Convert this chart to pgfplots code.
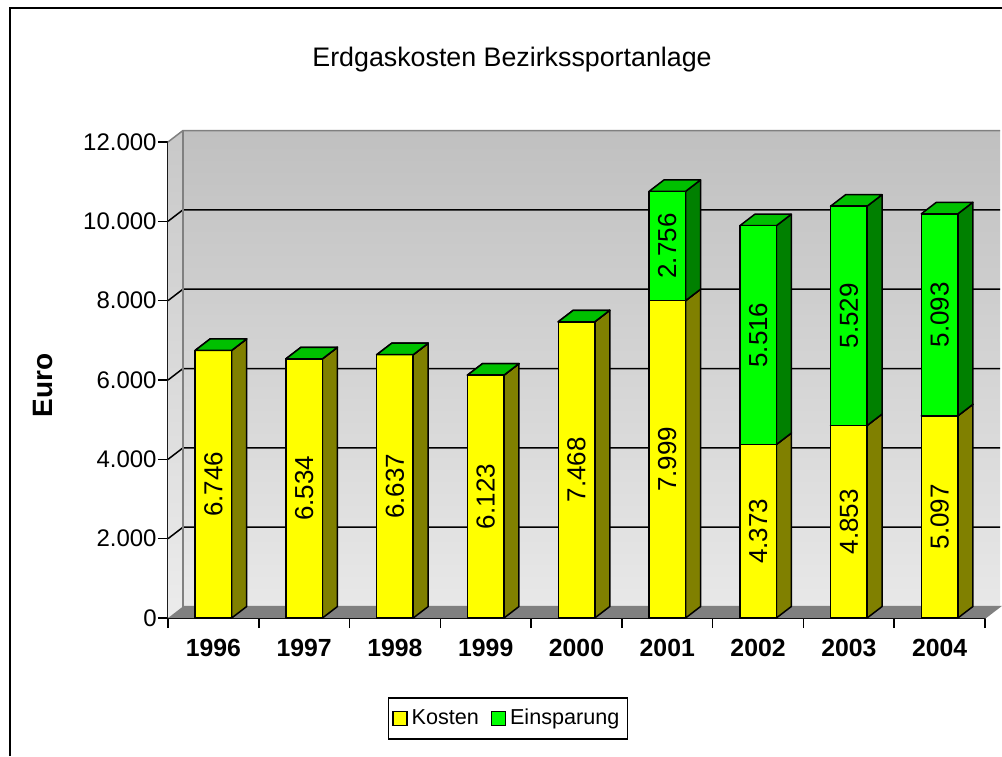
\documentclass[border=0pt]{standalone}
\usepackage{pgfplots}
\pgfplotsset{compat=1.18}
\usepackage{pgfplotstable}
\usepackage{fontspec}
\setmainfont{Liberation Sans}
\definecolor{kfront}{HTML}{FFFF00}
\definecolor{kside}{HTML}{808000}
\definecolor{ktop}{HTML}{C0C000}
\definecolor{efront}{HTML}{00FF00}
\definecolor{eside}{HTML}{008000}
\definecolor{etop}{HTML}{00C000}
\definecolor{walltop}{HTML}{C0C0C0}
\definecolor{wallbot}{HTML}{E8E8E8}
\definecolor{sidetop}{HTML}{C8C8C8}
\definecolor{sidebot}{HTML}{ECECEC}
\definecolor{floorc}{HTML}{808080}

\pgfplotstableread{
x k e kl
1 6746 0 6.746
2 6534 0 6.534
3 6637 0 6.637
4 6123 0 6.123
5 7468 0 7.468
6 7999 2756 7.999
7 4373 5516 4.373
8 4853 5529 4.853
9 5097 5093 5.097
}\data
\pgfplotstableread{
x k e el
6 7999 2756 2.756
7 4373 5516 5.516
8 4853 5529 5.529
9 5097 5093 5.093
}\dataE

\pgfdeclareplotmark{nothing}{}
\newdimen\segh
\newcommand\drawbox[3]{%
  \edef\hval{\pgfplotspointmeta}%
  \segh=\dimexpr 0.0198333pt*\hval\relax
  \edef\sh{\the\segh}%
  \filldraw[fill=#2, draw=black, line width=0.75pt, line join=round]
    (9.125pt,-\sh) -- (16.625pt,-\sh+5.75pt) -- (16.625pt,5.75pt) -- (9.125pt,0pt) -- cycle;
  \filldraw[fill=#3, draw=black, line width=0.75pt, line join=round]
    (-9.125pt,0pt) -- (-1.625pt,5.75pt) -- (16.625pt,5.75pt) -- (9.125pt,0pt) -- cycle;
  \filldraw[fill=#1, draw=black, line width=0.75pt, line join=round]
    (-9.125pt,-\sh) rectangle (9.125pt,0pt);
}

\begin{document}
\begin{tikzpicture}
\useasboundingbox (0,0) rectangle (501pt,378pt);
\draw[black, line width=0.8pt] (5pt,0pt) -- (5pt,374pt) -- (501pt,374pt);
\begin{axis}[
  at={(84pt,69pt)}, anchor=south west,
  scale only axis, width=408.5pt, height=238pt,
  clip=false,
  xmin=0.5, xmax=9.5, ymin=0, ymax=12000,
  scaled y ticks=false,
  axis x line*=bottom, axis y line*=left,
  axis line style={black, line width=0.75pt, -},
  tick style={black, line width=0.75pt},
  tick align=outside,
  major tick length=5pt,
  xtick={0.5,1.5,...,9.5}, xticklabels={},
  extra x ticks={1,2,3,4,5,6,7,8,9},
  extra x tick labels={1996,1997,1998,1999,2000,2001,2002,2003,2004},
  extra x tick style={major tick length=0pt, tick label style={font=\bfseries\fontsize{12.4}{14}\selectfont, yshift=-7pt}},
  ytick={0,2000,4000,6000,8000,10000,12000},
  yticklabels={0,2.000,4.000,6.000,8.000,10.000,12.000},
  yticklabel style={font=\fontsize{12}{14}\selectfont, inner xsep=0.5pt},
  ylabel={Euro},
  ylabel style={at={(rel axis cs:-0.153,0.489)}, anchor=center, font=\bfseries\fontsize{14}{16}\selectfont},
  title={Erdgaskosten Bezirkssportanlage},
  title style={at={(rel axis cs:0.4211,1.1726)}, anchor=center, yshift=-6pt, font=\fontsize{13.4}{16}\selectfont},
  legend style={at={(rel axis cs:0.416,-0.211)}, anchor=center, draw=black, line width=0.75pt,
    font=\fontsize{10.8}{13}\selectfont, legend columns=2, inner xsep=2pt, inner ysep=3.5pt,
    /tikz/every even column/.append style={column sep=4pt}},
  legend cell align=left,
]
  \shade[top color=walltop, bottom color=wallbot, shift={(7.5pt,5.75pt)}] (rel axis cs:0,0) rectangle (rel axis cs:1,1);
  \shade[top color=sidetop, bottom color=sidebot] (rel axis cs:0,0) -- ++(7.5pt,5.75pt) -- ++(0pt,238pt) -- (rel axis cs:0,1) -- cycle;
  \fill[floorc] (rel axis cs:0,0) -- (rel axis cs:1,0) -- ++(7.5pt,5.75pt) -- ++(-408.5pt,0pt) -- cycle;
  \draw[black, line width=0.75pt] (axis cs:0.5,2000) -- ++(7.5pt,5.75pt) -- ++(408.5pt,0pt);
  \draw[black, line width=0.75pt] (axis cs:0.5,4000) -- ++(7.5pt,5.75pt) -- ++(408.5pt,0pt);
  \draw[black, line width=0.75pt] (axis cs:0.5,6000) -- ++(7.5pt,5.75pt) -- ++(408.5pt,0pt);
  \draw[black, line width=0.75pt] (axis cs:0.5,8000) -- ++(7.5pt,5.75pt) -- ++(408.5pt,0pt);
  \draw[black, line width=0.75pt] (axis cs:0.5,10000) -- ++(7.5pt,5.75pt) -- ++(408.5pt,0pt);
  \draw[gray, line width=0.75pt] (rel axis cs:0,1) -- ++(7.5pt,5.75pt) -- ++(408.5pt,0pt);
  \draw[gray, line width=0.75pt] (rel axis cs:0,0) ++(7.5pt,5.75pt) -- ++(0pt,238pt);
  \draw[gray, line width=0.75pt] (rel axis cs:0,0) ++(7.5pt,5.75pt) -- ++(408.5pt,0pt) -- (rel axis cs:1,0);

\addplot[forget plot, scatter, only marks, mark=nothing, point meta=explicit symbolic,
  scatter/@pre marker code/.code={\drawbox{kfront}{kside}{ktop}},
  scatter/@post marker code/.code={}]
  table[x=x, y=k, meta=k] {\data};
\addplot[forget plot, scatter, only marks, mark=nothing, point meta=explicit symbolic,
  scatter/@pre marker code/.code={\drawbox{efront}{eside}{etop}},
  scatter/@post marker code/.code={}]
  table[x=x, y expr=\thisrow{k}+\thisrow{e}, meta=e] {\data};

\addplot[forget plot, draw=none, mark=none, nodes near coords, point meta=explicit symbolic,
  every node near coord/.append style={rotate=90, anchor=center, inner sep=0pt, black, font=\fontsize{13}{15}\selectfont}]
  table[x=x, y expr=\thisrow{k}/2, meta=kl] {\data};
\addplot[forget plot, draw=none, mark=none, nodes near coords, point meta=explicit symbolic,
  every node near coord/.append style={rotate=90, anchor=center, inner sep=0pt, black, font=\fontsize{13}{15}\selectfont}]
  table[x=x, y expr=\thisrow{k}+\thisrow{e}/2, meta=el] {\dataE};

\addlegendimage{legend image code/.code={\draw[black,line width=0.6pt,fill=kfront] (0pt,-3.5pt) rectangle (7pt,3.5pt);}}
\addlegendentry{Kosten}
\addlegendimage{legend image code/.code={\draw[black,line width=0.6pt,fill=efront] (0pt,-3.5pt) rectangle (7pt,3.5pt);}}
\addlegendentry{Einsparung}
\end{axis}
\end{tikzpicture}
\end{document}
